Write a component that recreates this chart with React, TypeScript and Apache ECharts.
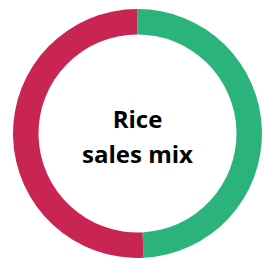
import React, { useEffect, useRef } from "react";
import * as echarts from "echarts";

const categories = ["Green share", "Red share"];
const values = [49.2, 50.8];
const colors = ["#2bb37c", "#c92553"];
const centerLines = ["Rice", "sales mix"];

export default function App() {
  const ref = useRef<HTMLDivElement>(null);
  useEffect(() => {
    if (!ref.current) return;
    const chart = echarts.init(ref.current, undefined, { renderer: "svg" });
    chart.setOption({
      animation: false,
      backgroundColor: "#ffffff",
      series: [
        {
          type: "pie",
          center: [137.5, 133.5],
          radius: [99, 124.5],
          startAngle: 90,
          clockwise: true,
          label: { show: false },
          labelLine: { show: false },
          silent: true,
          itemStyle: { borderWidth: 0 },
          data: categories.map((name, i) => ({
            name,
            value: values[i],
            itemStyle: { color: colors[i] },
          })),
        },
      ],
      graphic: [
        {
          type: "text",
          x: 137.5,
          y: 118,
          style: {
            text: centerLines[0],
            font: "bold 24px 'Open Sans'",
            fill: "#000000",
            align: "center",
            verticalAlign: "middle",
          },
        },
        {
          type: "text",
          x: 137.5,
          y: 153,
          style: {
            text: centerLines[1],
            font: "bold 24px 'Open Sans'",
            fill: "#000000",
            align: "center",
            verticalAlign: "middle",
          },
        },
      ],
    });
    return () => chart.dispose();
  }, []);
  return (
    <div
      ref={ref}
      style={{ position: "fixed", left: 0, top: 0, width: 264, height: 262 }}
    />
  );
}
